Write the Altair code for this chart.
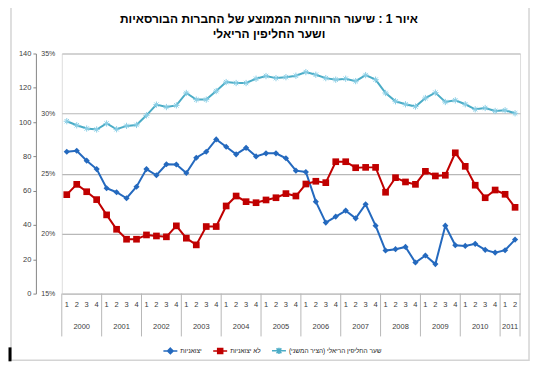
import altair as alt
import pandas as pd

# ---------------- data ----------------
YEARS = [str(y) for y in range(2000, 2012)]
QUARTERS_IN_YEAR = [4] * 11 + [2]

EXPORTERS = [82.7, 83.3, 77.5, 72.6, 61.4, 59.1, 55.6, 62.3,
             72.6, 69.0, 75.4, 75.3, 70.3, 79.2, 82.7, 89.9,
             85.6, 81.2, 85.0, 80.0, 81.8, 81.8, 78.9, 71.7,
             70.9, 53.6, 41.4, 44.9, 48.4, 43.9, 52.1, 39.6,
             25.1, 25.9, 27.2, 18.1, 22.2, 17.2, 39.6, 28.2,
             27.8, 29.0, 25.5, 23.9, 25.3, 31.5]
NON_EXPORTERS = [57.7, 63.7, 59.4, 54.8, 45.9, 37.5, 31.7, 31.7,
                 34.2, 33.6, 33.1, 39.5, 32.3, 28.4, 39.1, 39.1,
                 51.1, 56.9, 53.6, 53.0, 54.6, 55.9, 58.3, 56.9,
                 63.9, 65.5, 64.7, 76.9, 76.9, 73.4, 73.6, 73.6,
                 59.1, 67.6, 65.1, 63.7, 71.3, 68.6, 69.0, 82.1,
                 74.2, 63.2, 55.9, 60.4, 57.9, 50.3]
REAL_RATE = [29.36, 29.02, 28.75, 28.67, 29.17, 28.69, 28.97, 29.05,
             29.85, 30.74, 30.54, 30.68, 31.71, 31.16, 31.16, 31.87,
             32.62, 32.54, 32.54, 32.90, 33.12, 32.95, 33.03, 33.15,
             33.45, 33.23, 32.95, 32.82, 32.90, 32.70, 33.20, 32.82,
             31.71, 31.02, 30.77, 30.58, 31.29, 31.74, 30.96, 31.10,
             30.77, 30.35, 30.46, 30.21, 30.27, 30.02]

SERIES = ["יצואניות", "לא יצואניות", "שער החליפין הריאלי (הציר המשני)"]
TITLE_LINES = ["איור 1 : שיעור הרווחיות הממוצע של החברות הבורסאיות",
               "ושער החליפין הריאלי"]
PRIMARY_TICKS = [0, 20, 40, 60, 80, 100, 120, 140]
SECONDARY_TICKS = [15, 20, 25, 30, 35]

# ---------------- derived tables ----------------
n = len(EXPORTERS)
df = pd.DataFrame({"q": list(range(n)), "exp": EXPORTERS,
                   "non": NON_EXPORTERS, "rate": REAL_RATE})

q_idx, q_lab, bounds, centers = [], [], [], []
start = 0
for cnt in QUARTERS_IN_YEAR:
    bounds.append(start - 0.5)
    centers.append(start + (cnt - 1) / 2)
    for k in range(cnt):
        q_idx.append(start + k)
        q_lab.append(str(k + 1))
    start += cnt
bounds.append(start - 0.5)
qdf = pd.DataFrame({"q": q_idx, "lab": q_lab})
ydf = pd.DataFrame({"c": centers, "year": YEARS})
bdf = pd.DataFrame({"b": bounds})
one = pd.DataFrame({"k": [0]})

# ---------------- styles ----------------
FONT = "Liberation Sans"
BLUE = "#2469BE"
RED = "#C00000"
CYAN = "#4BACC6"
CYAN_MK = "#8CCFE6"
GRID = "#b8b8b8"
TXT = "#404040"
ASTER = "M-1,0L1,0M0,-1L0,1M-0.7,-0.7L0.7,0.7M-0.7,0.7L0.7,-0.7"
PATHS = ["M-1,0H1M0,-0.4L0.4,0L0,0.4L-0.4,0Z",
         "M-1,0H1M-0.36,-0.36H0.36V0.36H-0.36Z",
         "M-1,0H1M-0.35,-0.35L0.35,0.35M-0.35,0.35L0.35,-0.35M0,-0.45V0.45"]

W, H = 460, 241
xscale = alt.Scale(domain=[-0.5, n - 0.5], nice=False, zero=False)
X = alt.X("q:Q", scale=xscale, axis=None)
pscale = alt.Scale(domain=[0, 140], nice=False, zero=False)
sscale = alt.Scale(domain=[15, 35], nice=False, zero=False)

prim_axis = alt.Axis(orient="left", offset=26, values=PRIMARY_TICKS, grid=False,
                     domainColor="#868686", tickColor="#868686", tickSize=3,
                     labelFontSize=7.5, labelFont=FONT, labelColor=TXT,
                     labelPadding=2, title=None)
sec_axis = alt.Axis(orient="left", offset=0, values=SECONDARY_TICKS,
                    labelExpr="datum.value + '%'", domain=False, ticks=False,
                    grid=True, gridColor=GRID, gridWidth=1.2,
                    labelFontSize=7, labelFont=FONT, labelColor=TXT,
                    labelPadding=7, title=None)

base = alt.Chart(df)
blue_line = base.mark_line(color=BLUE, strokeWidth=2).encode(
    x=X, y=alt.Y("exp:Q", scale=pscale, axis=prim_axis))
blue_pts = base.mark_point(shape="diamond", filled=True, size=38, color=BLUE, opacity=1).encode(
    x=X, y=alt.Y("exp:Q", scale=pscale, axis=None))
red_line = base.mark_line(color=RED, strokeWidth=2).encode(
    x=X, y=alt.Y("non:Q", scale=pscale, axis=None))
red_pts = base.mark_point(shape="square", filled=True, size=45, color=RED, opacity=1).encode(
    x=X, y=alt.Y("non:Q", scale=pscale, axis=None))
cyan_line = base.mark_line(color=CYAN, strokeWidth=2).encode(
    x=X, y=alt.Y("rate:Q", scale=sscale, axis=sec_axis))
cyan_pts = base.mark_point(shape=ASTER, filled=False, size=40, color=CYAN_MK,
                           strokeWidth=1, opacity=1).encode(
    x=X, y=alt.Y("rate:Q", scale=sscale, axis=None))

seps = alt.Chart(bdf).mark_rule(color=GRID, strokeWidth=1).encode(
    x=alt.X("b:Q", scale=xscale, axis=None), y=alt.value(H), y2=alt.value(H + 43))
qtext = alt.Chart(qdf).mark_text(fontSize=7.5, font=FONT, color=TXT, baseline="middle").encode(
    x=X, y=alt.value(H + 11.7), text="lab:N")
ytext = alt.Chart(ydf).mark_text(fontSize=7.5, font=FONT, color=TXT, baseline="middle").encode(
    x=alt.X("c:Q", scale=xscale, axis=None), y=alt.value(H + 33.7), text="year:N")

frame = alt.Chart(one).mark_rect(fill="transparent", stroke="#d4d4d4", strokeWidth=1.5).encode(
    x=alt.value(-51), x2=alt.value(469), y=alt.value(-50), y2=alt.value(308))
bar = alt.Chart(one).mark_rule(color="black", strokeWidth=3).encode(
    x=alt.value(-52), y=alt.value(295), y2=alt.value(309))

t1 = alt.Chart(one).mark_text(text=TITLE_LINES[0], fontSize=12, fontWeight="bold", font=FONT,
                              color="black", align="center", baseline="middle").encode(
    x=alt.value(208), y=alt.value(-34.7))
t2 = alt.Chart(one).mark_text(text=TITLE_LINES[1], fontSize=12, fontWeight="bold", font=FONT,
                              color="black", align="center", baseline="middle").encode(
    x=alt.value(208), y=alt.value(-19.7))

LEG = alt.Legend(orient="none", legendX=101, legendY=290, direction="horizontal", title=None,
                 symbolSize=196, symbolStrokeWidth=1.5, labelFontSize=6.5, labelFont=FONT,
                 labelColor="#222", labelOffset=2, columnPadding=8,
                 labelExpr="'\u200f' + datum.label + '\u200f'")
legend_layer = alt.Chart(pd.DataFrame({"series": SERIES})).transform_filter("false").mark_point(
    filled=True, opacity=1).encode(
    fill=alt.Fill("series:N", scale=alt.Scale(domain=SERIES, range=[BLUE, RED, CYAN]), legend=LEG),
    stroke=alt.Stroke("series:N", scale=alt.Scale(domain=SERIES, range=[BLUE, RED, CYAN]), legend=LEG),
    shape=alt.Shape("series:N", scale=alt.Scale(domain=SERIES, range=PATHS), legend=LEG))

chart = alt.layer(
    frame, bar, seps, qtext, ytext, cyan_line, cyan_pts, blue_line, blue_pts,
    red_line, red_pts, legend_layer, t1, t2
).resolve_scale(y="independent").properties(
    width=W, height=H,
    autosize=alt.AutoSizeParams(type="none"),
    padding={"left": 54, "top": 45, "right": 12, "bottom": 70},
).configure_view(stroke=None).configure(background="white")

chart.save("out.html", embed_options={"renderer": "svg", "actions": False})
